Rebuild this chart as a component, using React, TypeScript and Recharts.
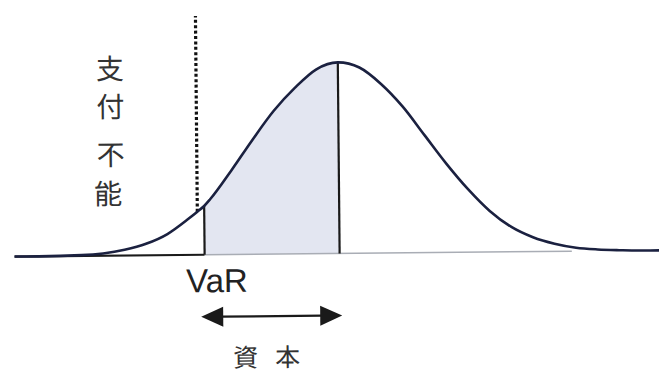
import React from 'react';
import { ComposedChart, Line, Area, XAxis, YAxis, ReferenceLine, ReferenceDot } from 'recharts';

// loss distribution; x in standard deviations from the mean, density relative to the peak
const sigma = [
  -3.78, -3.5, -3, -2.75, -2.5, -2.25, -2, -1.75, -1.65, -1.57, -1.5, -1.25, -1, -0.75, -0.5, -0.25,
  0, 0.25, 0.5, 0.75, 1, 1.25, 1.5, 1.75, 2, 2.25, 2.5, 2.75, 3, 3.25, 3.5, 3.72,
];
const density = [
  0, 0, 0.004, 0.012, 0.03, 0.06, 0.11, 0.19, 0.225, 0.255, 0.29, 0.44, 0.6, 0.75, 0.87, 0.965,
  1, 0.972, 0.885, 0.765, 0.615, 0.465, 0.33, 0.215, 0.13, 0.075, 0.04, 0.018, 0.008, 0.003, 0, 0,
];

const VAR_Z = -1.57;
const VAR_DENSITY = 0.255;
const MEAN_Z = 0;
const PEAK_DENSITY = 1;
const LIMIT_Z = -1.65; // insolvency threshold (dotted)
const LIMIT_FROM = 0.225;
const LIMIT_TO = 1.25;

const RUIN_LABEL = ['支', '付', '不', '能'];
const VAR_LABEL = 'VaR';
const CAPITAL_LABEL = ['資', '本'];

const rows = sigma.map((z, i) => ({
  z,
  density: density[i],
  shade: z >= VAR_Z && z <= MEAN_Z ? density[i] : null,
}));

const INK = '#1a1a1a';
const CJK = '"Noto Sans CJK JP", "Noto Sans CJK SC", sans-serif';

const Arrow = (p: any) => {
  const x1 = Math.min(p.x1, p.x2) - 4;
  const x2 = Math.max(p.x1, p.x2) + 2;
  const y = p.y1;
  const head = 22;
  const half = 10;
  return (
    <g>
      <line x1={x1 + head - 2} y1={y} x2={x2 - head + 2} y2={y} stroke={INK} strokeWidth={2.2} />
      <polygon points={`${x1},${y} ${x1 + head},${y - half} ${x1 + head},${y + half}`} fill={INK} />
      <polygon points={`${x2},${y} ${x2 - head},${y - half} ${x2 - head},${y + half}`} fill={INK} />
    </g>
  );
};

const ruinOffsets = [0, 38, 86, 125];

export default function App() {
  return (
    <div style={{ position: 'absolute', left: 0, top: 0, width: 659, height: 376, background: '#fff', overflow: 'hidden' }}>
      <div style={{ transform: 'rotate(-0.55deg)' }}>
        <ComposedChart width={659} height={376} data={rows} margin={{ top: 0, right: 0, bottom: 0, left: 0 }}>
          <XAxis type="number" dataKey="z" domain={[-3.942, 3.721]} allowDataOverflow hide />
          <YAxis type="number" domain={[-0.641, 1.327]} allowDataOverflow hide />
          <Area
            dataKey="shade"
            type="monotone"
            baseValue={0}
            fill="#e3e6f1"
            fillOpacity={1}
            stroke="none"
            isAnimationActive={false}
          />
          <ReferenceLine segment={[{ x: -3.78, y: 0 }, { x: VAR_Z, y: 0 }]} stroke={INK} strokeWidth={2.2} />
          <ReferenceLine segment={[{ x: VAR_Z, y: 0 }, { x: 2.7, y: 0 }]} stroke="#a9adb5" strokeWidth={1.6} />
          <ReferenceLine segment={[{ x: VAR_Z, y: 0 }, { x: VAR_Z, y: VAR_DENSITY }]} stroke={INK} strokeWidth={2.2} />
          <ReferenceLine segment={[{ x: MEAN_Z, y: 0 }, { x: MEAN_Z, y: PEAK_DENSITY }]} stroke={INK} strokeWidth={2.2} />
          <ReferenceLine
            segment={[{ x: LIMIT_Z, y: LIMIT_FROM }, { x: LIMIT_Z, y: LIMIT_TO }]}
            stroke="#111"
            strokeWidth={3.2}
            strokeDasharray="3 2.4"
          />
          <ReferenceLine segment={[{ x: VAR_Z, y: -0.325 }, { x: MEAN_Z, y: -0.325 }]} shape={Arrow} />
          <Line
            dataKey="density"
            type="monotone"
            stroke="#1b2140"
            strokeWidth={2.6}
            dot={false}
            isAnimationActive={false}
          />
          <ReferenceDot
            x={-1.43}
            y={-0.196}
            r={0}
            shape={(p: any) => (
              <text x={p.cx} y={p.cy} textAnchor="middle" fontFamily='"Liberation Sans", Arial, sans-serif' fontSize={33} fill="#222">
                {VAR_LABEL}
              </text>
            )}
          />
          <ReferenceDot
            x={-0.86}
            y={-0.53}
            r={0}
            shape={(p: any) => (
              <text fontFamily={CJK} fontSize={25} fill="#333" textAnchor="middle" dominantBaseline="central">
                {CAPITAL_LABEL.map((ch, i) => (
                  <tspan key={ch} x={p.cx - 21 + i * 42} y={p.cy}>
                    {ch}
                  </tspan>
                ))}
              </text>
            )}
          />
          <ReferenceDot
            x={-2.65}
            y={0.987}
            r={0}
            shape={(p: any) => (
              <text fontFamily={CJK} fontSize={28} fill="#333" textAnchor="middle" dominantBaseline="central">
                {RUIN_LABEL.map((ch, i) => (
                  <tspan key={ch} x={p.cx - (i === 3 ? 3 : 0)} y={p.cy + ruinOffsets[i]}>
                    {ch}
                  </tspan>
                ))}
              </text>
            )}
          />
        </ComposedChart>
      </div>
    </div>
  );
}
